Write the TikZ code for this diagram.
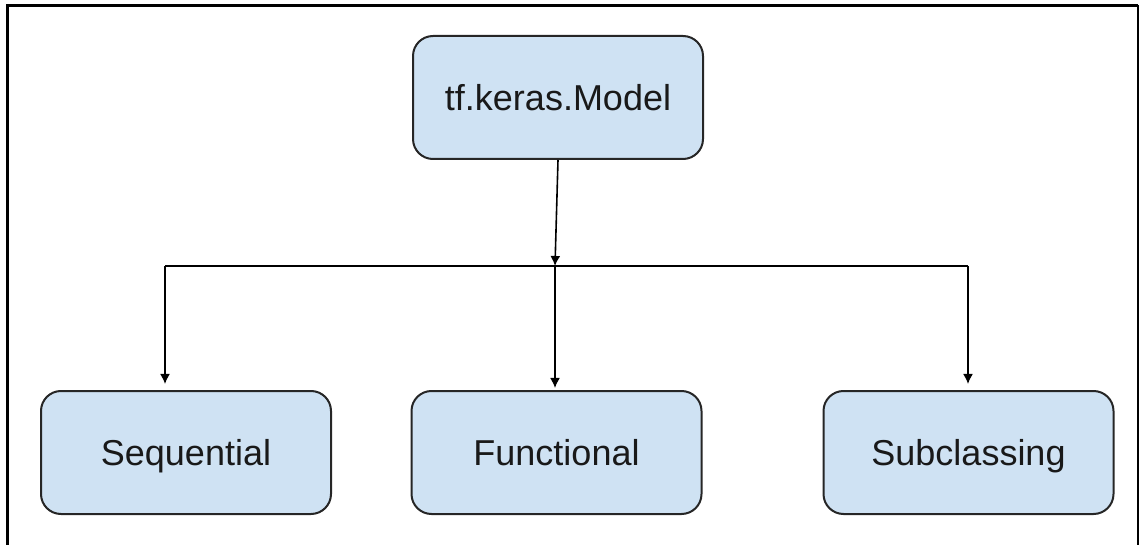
\documentclass[tikz,border=0pt]{standalone}
\usepackage{fontspec}
\setmainfont{Liberation Sans}
\usetikzlibrary{arrows.meta}
\definecolor{boxblue}{HTML}{CFE2F3}
\tikzset{
  kind/.style={draw=black!85, line width=1pt, fill=boxblue, rounded corners=10pt,
    minimum width=145pt, minimum height=61.5pt, inner sep=0pt,
    text height=12.9pt, text depth=0pt, text=black!90,
    font=\fontsize{18}{21}\selectfont},
  link/.style={line width=0.8pt, -{Latex[length=5pt,width=5pt]}}
}
\begin{document}
\begin{tikzpicture}[x=0.5pt,y=-0.5pt]
\useasboundingbox (0,0) rectangle (1141,545);
\draw[line width=1.5pt] (7,545) -- (7,5.5) -- (1138,5.5);
\draw[line width=1pt] (1137.5,5.5) -- (1137.5,545);

\node[kind] (model) at (558,97.5) {tf.keras.Model};
\node[kind] (seq) at (186,452.5) {Sequential};
\node[kind] (func) at (556.5,452.5) {Functional};
\node[kind] (sub) at (968.5,452.5) {Subclassing};

\coordinate (jl) at (165,266);
\coordinate (jm) at (555,266);
\coordinate (jr) at (968,266);

\path[draw,link] (model.south) -- (jm);
\path[draw,line width=0.8pt] (jl) -- (jr);
\path[draw,link,shorten >=3pt] (jl) -- (jl |- seq.north);
\path[draw,link,shorten >=1pt] (jm) -- (jm |- func.north);
\path[draw,link,shorten >=3pt] (jr) -- (jr |- sub.north);
\end{tikzpicture}
\end{document}
